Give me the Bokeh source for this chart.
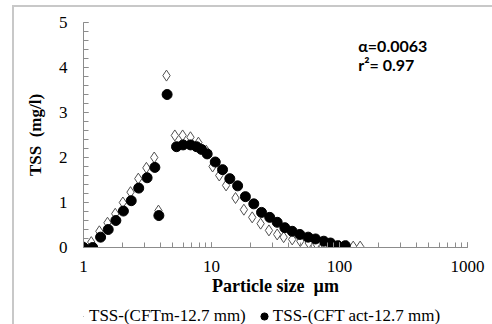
from bokeh.plotting import figure
from bokeh.layouts import column
from bokeh.models import (LogTicker, SingleIntervalTicker, Legend, LegendItem, Label,
                          Range1d)
from bokeh.embed import file_html
from bokeh.resources import INLINE

# ---- data ----
size_model = [1.0, 1.15, 1.33, 1.54, 1.77, 2.03, 2.33, 2.68, 3.10, 3.57, 3.85, 4.45,
              5.17, 5.95, 6.85, 7.9, 9.1, 10.2, 11.5, 13.0, 15.4, 17.9, 20.8, 24.2,
              28.1, 32.6, 36.6, 42.7, 49.4, 57.5, 66, 76, 87, 100, 114, 128, 145]
tss_model = [0.02, 0.12, 0.36, 0.55, 0.75, 1.0, 1.23, 1.53, 1.77, 2.0, 0.82, 3.82,
             2.49, 2.49, 2.45, 2.33, 2.15, 1.8, 1.6, 1.38, 1.1, 0.84, 0.67, 0.53,
             0.38, 0.29, 0.23, 0.18, 0.14, 0.1, 0.08, 0.06, 0.05, 0.03, 0.03, 0.02, 0.02]

size_act = [1.0, 1.18, 1.36, 1.56, 1.79, 2.05, 2.36, 2.70, 3.14, 3.61, 3.88, 4.5,
            5.33, 6.0, 6.86, 7.64, 8.35, 9.25, 10.7, 12.2, 13.9, 16.0, 18.4, 21.4,
            24.6, 28.5, 32.6, 37.4, 42.7, 49, 56.9, 65, 75.4, 85, 97, 111]
tss_act = [0.0, 0.0, 0.23, 0.4, 0.6, 0.81, 1.04, 1.32, 1.55, 1.78, 0.71, 3.4,
           2.24, 2.28, 2.28, 2.24, 2.18, 2.08, 1.9, 1.73, 1.53, 1.37, 1.13, 0.97,
           0.78, 0.67, 0.56, 0.44, 0.36, 0.29, 0.23, 0.19, 0.14, 0.1, 0.04, 0.04]

label_model = "TSS-(CFTm-12.7 mm)"
label_act = "TSS-(CFT act-12.7 mm)"
x_title = "Particle size\u00a0 \u00b5m"
y_title = "TSS\u00a0 (mg/l)"
x_ticks = [1, 10, 100, 1000]
x_tick_labels = ["1", "10", "100", "1000"]
stat_alpha = "\u03b1=0.0063"
stat_r2 = "r\u00b2= 0.97"

SERIF = "Liberation Serif"
W, H_MAIN, H_LEG = 478, 300, 17

model_style = dict(marker="diamond", fill_color="white", line_color="#505050", line_width=1)
act_style = dict(marker="circle", fill_color="black", line_color="black")

p = figure(width=W, height=H_MAIN, x_axis_type="log", output_backend="svg",
           toolbar_location=None, x_range=Range1d(1, 1000), y_range=Range1d(0, 5),
           min_border_left=69, min_border_right=25, min_border_top=15,
           min_border_bottom=60)
p.outline_line_color = None
p.xgrid.visible = False
p.ygrid.visible = False
p.background_fill_color = "white"
p.border_fill_color = "white"

p.scatter(size_model, tss_model, size=11, **model_style)
p.scatter(size_act, tss_act, size=10, **act_style)

for ax in (p.xaxis[0], p.yaxis[0]):
    ax.axis_line_color = "#8c8c8c"
    ax.major_tick_line_color = "#8c8c8c"
    ax.minor_tick_line_color = "#8c8c8c"
    ax.major_tick_in = 5
    ax.major_tick_out = 0
    ax.minor_tick_in = 5
    ax.minor_tick_out = 0
    ax.major_label_text_font = SERIF
    ax.major_label_text_font_size = "17px"
    ax.major_label_text_color = "black"
    ax.axis_label_text_font = SERIF
    ax.axis_label_text_font_style = "bold"
    ax.axis_label_text_color = "black"

p.xaxis.ticker = LogTicker(mantissas=[1], num_minor_ticks=10)
p.xaxis.major_label_overrides = {t: s for t, s in zip(x_ticks, x_tick_labels)}
p.xaxis.major_label_standoff = 13
p.xaxis.axis_label = x_title
p.xaxis.axis_label_text_font_size = "18px"
p.xaxis.axis_label_standoff = 1

p.yaxis.ticker = SingleIntervalTicker(interval=1, num_minor_ticks=5)
p.yaxis.major_label_standoff = 16
p.yaxis.axis_label = y_title
p.yaxis.axis_label_text_font_size = "17px"
p.yaxis.axis_label_standoff = 11

for txt, yv in ((stat_alpha, 4.5), (stat_r2, 4.06)):
    p.add_layout(Label(x=140, y=yv, text=txt, text_font="Lato",
                       text_font_style="bold", text_font_size="16px",
                       text_color="black", text_baseline="alphabetic"))

# ---- legend strip (series drawn off-range so only legend glyphs show) ----
lg = figure(width=W, height=H_LEG, output_backend="svg", toolbar_location=None,
            min_border=0, x_axis_location=None, y_axis_location=None,
            x_range=Range1d(-2, -1), y_range=Range1d(-2, -1))
lg.grid.visible = False
lg.outline_line_color = None
lg.background_fill_color = "white"
lg.border_fill_color = "white"
lm = lg.scatter(size_model, tss_model, size=8, **model_style)
la = lg.scatter(size_act, tss_act, size=8, **act_style)
legend = Legend(items=[LegendItem(label=label_model, renderers=[lm]),
                       LegendItem(label=label_act, renderers=[la])],
                orientation="horizontal", location=(-12, -2),
                label_text_font=SERIF, label_text_font_size="17px",
                label_text_color="black", glyph_width=18, glyph_height=20,
                label_height=20, label_standoff=0, spacing=9, padding=0,
                margin=0, border_line_color=None, background_fill_alpha=0)
lg.add_layout(legend, "center")

layout = column(p, lg, spacing=0,
                styles={"margin-left": "12px", "margin-top": "5px",
                        "border-left": "2px solid #c8c8c8",
                        "border-top": "2px solid #c8c8c8"})

open("out.html", "w").write(file_html(layout, INLINE))
